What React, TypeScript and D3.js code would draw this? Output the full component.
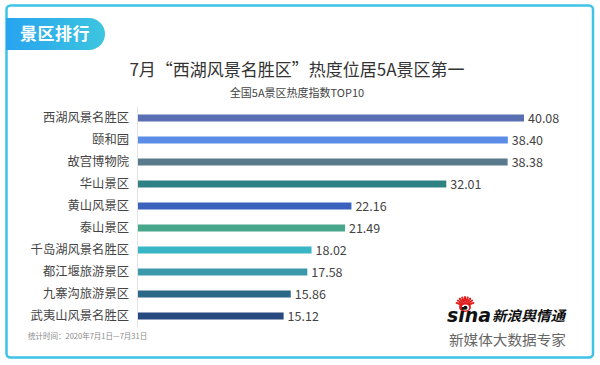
import React from "react";
import * as d3 from "d3";

const categories = [
  "西湖风景名胜区",
  "颐和园",
  "故宫博物院",
  "华山景区",
  "黄山风景区",
  "泰山景区",
  "千岛湖风景名胜区",
  "都江堰旅游景区",
  "九寨沟旅游景区",
  "武夷山风景名胜区",
];
const values = [40.08, 38.4, 38.38, 32.01, 22.16, 21.49, 18.02, 17.58, 15.86, 15.12];
const barColors = [
  "#5a6fb3",
  "#5b8ce6",
  "#587a8c",
  "#2f8183",
  "#3b61bf",
  "#48a68a",
  "#39b6c6",
  "#3a99a9",
  "#2b6787",
  "#26497f",
];

const FONT = '"Noto Sans CJK SC", "Noto Sans", sans-serif';

export default function App() {
  const W = 600;
  const H = 365;
  const x = d3.scaleLinear().domain([0, 40.08]).range([138, 524]);
  const y = d3.scaleBand<string>().domain(categories).range([107, 327]).padding(0);
  const barH = 7;

  // sunburst rays for sina eye
  const rays = d3.range(9).map((i) => {
    const a = (-160 + i * 17.5) * (Math.PI / 180);
    return a;
  });

  return (
    <div style={{ position: "absolute", left: 0, top: 0, width: W, height: H, background: "#fff" }}>
      <svg width={W} height={H} style={{ display: "block" }} fontFamily={FONT}>
        <defs>
          <linearGradient id="hdr" x1="0" x2="1" y1="0" y2="0">
            <stop offset="0" stopColor="#27a4f0" />
            <stop offset="1" stopColor="#3dc5df" />
          </linearGradient>
        </defs>
        <rect x={0} y={0} width={W} height={H} fill="#fff" />
        {/* frame */}
        <rect x={6.5} y={5.5} width={586.5} height={352} rx={4} fill="none" stroke="#3ec3e6" strokeWidth={2.5} />
        {/* header badge */}
        <path d="M6,18 H89 A16,16 0 0 1 89,50 H6 Z" fill="url(#hdr)" />
        <text x={20} y={40} fill="#fff" fontSize={17} fontWeight="bold" letterSpacing={0.5}>
          景区排行
        </text>

        {/* titles */}
        <text x={297} y={76} textAnchor="middle" fontSize={17} fill="#333">
          7月“西湖风景名胜区”热度位居5A景区第一
        </text>
        <text x={297} y={97} textAnchor="middle" fontSize={11} fill="#444">
          全国5A景区热度指数TOP10
        </text>

        {/* axis line */}
        <line x1={137.5} x2={137.5} y1={107} y2={327} stroke="#e2e2e2" strokeWidth={1} />

        {categories.map((c, i) => {
          const cy = (y(c) as number) + y.bandwidth() / 2;
          return (
            <g key={c}>
              <text x={129} y={cy} dy="0.36em" textAnchor="end" fontSize={12.3} fill="#444">
                {c}
              </text>
              <rect x={x(0)} y={cy - barH / 2} width={x(values[i]) - x(0)} height={barH} fill={barColors[i]} />
              <text x={x(values[i]) + 4} y={cy} dy="0.36em" fontSize={12.5} fill="#444">
                {values[i].toFixed(2)}
              </text>
            </g>
          );
        })}

        {/* footer */}
        <text x={28} y={338.5} fontSize={7.5} fill="#888">
          统计时间：2020年7月1日—7月31日
        </text>

        {/* sina logo */}
        <g>
          {rays.map((a, i) => (
            <line
              key={i}
              x1={465 + Math.cos(a) * 5}
              y1={306 + Math.sin(a) * 5}
              x2={465 + Math.cos(a) * 9}
              y2={306 + Math.sin(a) * 9}
              stroke="#e0201e"
              strokeWidth={2}
              strokeLinecap="round"
            />
          ))}
          <ellipse cx={465} cy={307} rx={6} ry={5} fill="#e0201e" />
          <ellipse cx={465.5} cy={307.5} rx={3.6} ry={3} fill="#fff" />
          <circle cx={465.5} cy={307.8} r={2} fill="#111" />
          <text
            x={447}
            y={322}
            fontFamily='"DejaVu Sans", sans-serif'
            fontStyle="italic"
            fontWeight="bold"
            fontSize={20}
            fill="#111"
            textLength={44}
            lengthAdjust="spacingAndGlyphs"
          >
            sina
          </text>
          <text
            x={492}
            y={321}
            fontStyle="italic"
            fontWeight="bold"
            fontSize={14}
            fill="#111"
            textLength={73}
            lengthAdjust="spacingAndGlyphs"
          >
            新浪舆情通
          </text>
        </g>
        <text x={449} y={345} fontSize={14} fill="#666" textLength={117} lengthAdjust="spacingAndGlyphs">
          新媒体大数据专家
        </text>
      </svg>
    </div>
  );
}
